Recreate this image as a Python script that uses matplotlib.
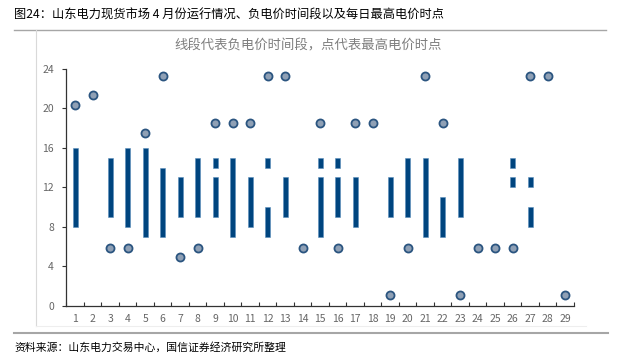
import matplotlib
matplotlib.use("Agg")
import matplotlib.pyplot as plt
from matplotlib.lines import Line2D

plt.rcParams['font.family'] = ['Noto Sans CJK SC', 'DejaVu Sans']

days = list(range(1, 30))

# negative price periods (hour start, hour end) per day
seg_day = [1, 3, 4, 5, 6, 7, 8, 9, 9, 10, 11, 12, 12, 13, 15, 15,
           16, 16, 17, 19, 20, 21, 22, 23, 26, 26, 27, 27]
seg_start = [8, 9, 8, 7, 7, 9, 9, 14, 9, 7, 8, 14, 7, 9, 14, 7,
             14, 9, 8, 9, 9, 7, 7, 9, 14, 12, 12, 8]
seg_end = [16, 15, 16, 16, 14, 13, 15, 15, 13, 15, 13, 15, 10, 13, 15, 13,
           15, 13, 13, 13, 15, 15, 11, 15, 15, 13, 13, 10]

# hour of highest price each day
peak_hour = [20.3, 21.4, 5.9, 5.9, 17.5, 23.3, 4.9, 5.9, 18.5, 18.5,
             18.5, 23.3, 23.3, 5.9, 18.5, 5.9, 18.5, 18.5, 1.1, 5.9,
             23.3, 18.5, 1.1, 5.9, 5.9, 5.9, 23.3, 23.3, 1.1]

yticks = [0, 4, 8, 12, 16, 20, 24]

bar_color = '#00457f'
pt_face = '#8fa0b5'
pt_edge = '#2b5580'

fig = plt.figure(figsize=(6.18, 3.59), dpi=100)
ax = fig.add_axes([0.1076, 0.1485, 0.8212, 0.6593])

heights = [e - s for s, e in zip(seg_start, seg_end)]
ax.bar(seg_day, heights, bottom=seg_start, width=0.3, color=bar_color,
       edgecolor='#5b8fbd', linewidth=0.4, zorder=2)
ax.plot(days, peak_hour, linestyle='none', marker='o', markersize=5.8,
        markerfacecolor=pt_face, markeredgecolor=pt_edge, markeredgewidth=1.3,
        zorder=3)

ax.set_xlim(0.5, 29.5)
ax.set_ylim(0, 24)
ax.set_yticks(yticks)
ax.set_xticks(days)
ax.set_xticklabels([str(d) for d in days])
ax.set_xticks([d + 0.5 for d in range(0, 30)], minor=True)
ax.tick_params(axis='x', which='major', length=0, pad=6, labelsize=7.5, labelcolor='#666666')
ax.tick_params(axis='x', which='minor', direction='in', length=3, width=0.8, color='#333333')
ax.tick_params(axis='y', direction='out', length=3, width=0.8, color='#333333',
               labelsize=7.5, labelcolor='#666666', pad=6)
for side in ['top', 'right']:
    ax.spines[side].set_visible(False)
for side in ['left', 'bottom']:
    ax.spines[side].set_color('#333333')
    ax.spines[side].set_linewidth(0.9)

fig.text(0.4985, 0.872, '线段代表负电价时间段，点代表最高电价时点', ha='center', va='center',
         fontsize=9.6, color='#7f7f7f')

# frame and separators
W, H = 618.0, 359.0
fig.add_artist(Line2D([14 / W, 606 / W], [1 - 29.5 / H, 1 - 29.5 / H], color='#a6a6a6', linewidth=1.0))
fig.add_artist(Line2D([36 / W, 36 / W], [1 - 29.5 / H, 1 - 326 / H], color='#d9d9d9', linewidth=0.8))
fig.add_artist(Line2D([36 / W, 586 / W], [1 - 326 / H, 1 - 326 / H], color='#eeeeee', linewidth=0.8))
fig.add_artist(Line2D([14 / W, 608 / W], [1 - 333 / H, 1 - 333 / H], color='#a6a6a6', linewidth=1.5))

fig.text(14 / W, 1 - 15 / H, '图24：山东电力现货市场 4 月份运行情况、负电价时间段以及每日最高电价时点',
         ha='left', va='center', fontsize=8.8, color='#000000')
fig.text(14 / W, 1 - 347 / H, '资料来源：山东电力交易中心，国信证券经济研究所整理',
         ha='left', va='center', fontsize=7.8, color='#000000')

fig.savefig('out.png', dpi=100)
